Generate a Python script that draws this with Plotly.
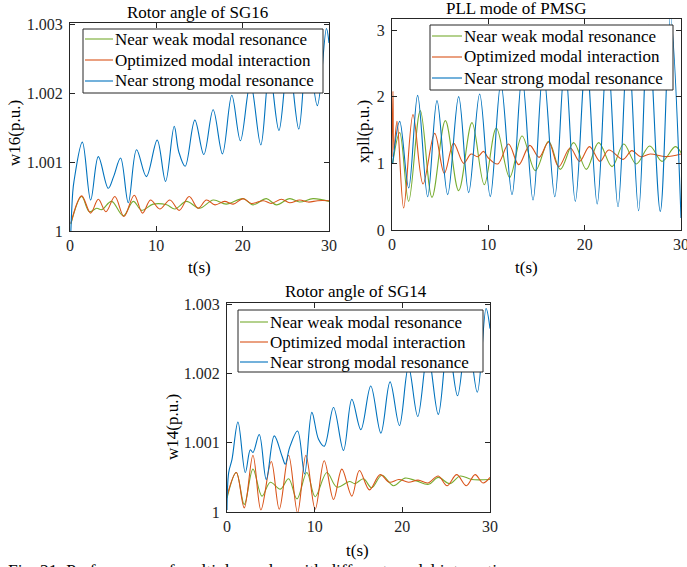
import plotly.graph_objects as go

# time points (s) and values
# --- Rotor angle of SG16 ---
t_sg16_weak = [0.1, 1.35, 2.24, 3.1, 3.66, 4.82, 6.17, 7.33, 8.3, 9.64, 11.2, 12.15, 13.5, 15.0,
               16.6, 18.1, 20.05, 21.2, 22.75, 23.9, 25.45, 26.6, 28.15, 30.0]
w16_weak = [1.0001, 1.0005, 1.00028, 1.00033, 1.00031, 1.00043, 1.00022, 1.00043, 1.0003, 1.00039,
            1.00038, 1.00032, 1.00043, 1.00033, 1.00045, 1.00039, 1.00047, 1.00038, 1.00047, 1.00038,
            1.00047, 1.00042, 1.00047, 1.00043]
t_sg16_opt = [0.1, 1.35, 2.39, 3.28, 4.16, 5.2, 6.25, 7.44, 8.4, 9.33, 10.4, 11.57, 12.65, 13.8, 14.85,
              15.8, 16.8, 17.9, 18.9, 20.05, 21.0, 22.4, 23.3, 24.5, 25.45, 26.6, 27.6, 28.7, 30.0]
w16_opt = [1.00011, 1.00051, 1.00026, 1.00046, 1.00028, 1.0005, 1.00021, 1.00052, 1.00026, 1.00045,
           1.00032, 1.00045, 1.0003, 1.0005, 1.00033, 1.00045, 1.00038, 1.00043, 1.00039, 1.00047,
           1.0004, 1.00044, 1.0004, 1.00046, 1.00041, 1.00045, 1.00042, 1.00044, 1.00044]
t_sg16_strong = [0.1, 0.31, 0.46, 1.43, 2.39, 3.28, 4.43, 5.05, 5.86, 6.75, 7.71, 8.85, 10.1, 11.07,
                 12.07, 12.6, 13.34, 14.46, 15.5, 16.58, 17.66, 18.74, 19.74, 20.9, 22.1, 23.1, 24.2,
                 25.3, 26.5, 27.5, 28.65, 29.7, 30.0]
w16_strong = [1.0, 1.00055, 1.00072, 1.00129, 1.00045, 1.00108, 1.00062, 1.00079, 1.00106, 1.00041,
              1.00118, 1.00079, 1.00132, 1.00072, 1.00152, 1.00115, 1.00094, 1.00161, 1.00111, 1.00176,
              1.00112, 1.00197, 1.00131, 1.00215, 1.00125, 1.00233, 1.00146, 1.0025, 1.00148, 1.00268,
              1.00182, 1.00294, 1.00273]

# --- PLL mode of PMSG ---
t_pll_weak = [0.07, 0.8, 1.73, 2.94, 4.15, 5.54, 6.92, 8.3, 9.58, 10.83, 12.21, 13.5, 14.88, 16.26,
              17.47, 18.86, 20.17, 21.45, 22.84, 24.05, 25.36, 26.75, 28.03, 29.4, 30.0]
xpll_weak = [1.0, 1.46, 0.43, 1.79, 0.49, 1.64, 0.59, 1.61, 0.68, 1.53, 0.79, 1.41, 0.89, 1.33, 0.91,
             1.31, 0.91, 1.31, 0.95, 1.29, 0.99, 1.26, 1.03, 1.25, 1.16]
t_pll_opt = [0.0, 0.1, 0.2, 0.52, 1.21, 2.18, 3.22, 4.43, 5.43, 6.4, 7.44, 8.2, 8.9, 9.5, 10.0, 10.97,
             12.1, 13.15, 14.3, 15.26, 16.26, 17.3, 18.5, 19.48, 20.5, 21.6, 22.5, 23.98, 24.9, 25.8,
             26.8, 28.4, 30.0]
xpll_opt = [1.1, 2.08, 1.2, 1.63, 0.33, 1.73, 0.69, 1.45, 0.85, 1.30, 1.00, 1.14, 1.10, 1.18, 1.08,
            0.99, 1.29, 0.98, 1.27, 1.09, 1.32, 0.95, 1.23, 1.03, 1.25, 1.03, 1.20, 1.06, 1.19, 1.10,
            1.14, 1.10, 1.14]
t_pll_strong = [0.07, 0.8, 1.73, 2.66, 3.7, 4.67, 5.78, 6.92, 7.96, 9.1, 10.2, 11.3, 12.46, 13.5,
                14.64, 15.7, 16.9, 17.95, 19.03, 20.15, 21.3, 22.35, 23.46, 24.5, 25.6, 26.6, 27.85,
                28.9, 30.0]
xpll_strong = [1.0, 1.63, 0.63, 2.02, 0.50, 1.94, 0.53, 2.00, 0.56, 2.04, 0.50, 2.2, 0.53, 2.3, 0.45,
               2.4, 0.50, 2.5, 0.43, 2.6, 0.39, 2.7, 0.35, 2.85, 0.29, 3.07, 0.28, 3.2, 0.18]

# --- Rotor angle of SG14 ---
t_sg14_weak = [0.0, 1.06, 1.97, 2.96, 3.99, 4.94, 6.08, 7.03, 7.98, 9.11, 10.06, 11.39, 12.53, 13.98,
               14.6, 15.57, 16.5, 17.66, 19.0, 20.3, 21.6, 23.0, 24.1, 25.4, 26.6, 27.9, 30.0]
w14_weak = [1.0002, 1.00057, 1.00011, 1.00062, 1.00023, 1.00043, 1.00033, 1.00048, 1.00019, 1.00057,
            1.00022, 1.00057, 1.00036, 1.00044, 1.00041, 1.00048, 1.00035, 1.00053, 1.00038, 1.00049,
            1.00045, 1.0004, 1.0005, 1.00041, 1.00052, 1.00047, 1.00047]
t_sg14_opt = [0.0, 1.06, 1.97, 2.96, 3.87, 5.05, 5.96, 7.03, 8.05, 9.0, 10.06, 11.09, 12.15, 13.1,
              14.24, 15.1, 16.25, 17.47, 18.53, 19.6, 20.7, 21.8, 22.9, 24.1, 25.1, 26.2, 27.3, 28.3,
              29.2, 30.0]
w14_opt = [1.00023, 1.00057, 1.00006, 1.00082, 1.00003, 1.00073, 1.00004, 1.00082, 0.99999, 1.00082,
           1.00004, 1.00074, 1.00018, 1.00062, 1.00023, 1.0006, 1.00032, 1.00054, 1.00043, 1.00047,
           1.00043, 1.00046, 1.00042, 1.00052, 1.00038, 1.00054, 1.00038, 1.00054, 1.00042, 1.0005]
t_sg14_strong = [0.0, 0.19, 0.57, 1.25, 2.09, 2.66, 2.96, 3.68, 4.48, 5.39, 6.27, 6.65, 7.14, 8.05,
                 8.85, 9.68, 10.44, 11.09, 12.15, 13.29, 14.24, 15.27, 16.4, 17.55, 18.6, 19.67, 20.7,
                 21.76, 22.9, 24.1, 25.2, 26.3, 27.4, 28.55, 29.55, 30.0]
w14_strong = [1.00003, 1.00057, 1.00076, 1.0013, 1.00057, 1.0009, 1.00086, 1.00112, 1.00047, 1.0011,
              1.00081, 1.00069, 1.00093, 1.00117, 1.00055, 1.00144, 1.00105, 1.00095, 1.00151, 1.00089,
              1.00163, 1.00119, 1.00182, 1.00114, 1.00188, 1.00125, 1.0021, 1.00138, 1.0023, 1.00141,
              1.00245, 1.00168, 1.0026, 1.00173, 1.00294, 1.00265]

series_names = ["Near weak modal resonance", "Optimized modal interaction", "Near strong modal resonance"]
colors = ["#77AC30", "#D95319", "#0072BD"]

W, H = 687, 567
FONT = "Liberation Serif"
AX = "#262626"


def px_x(p):
    return p / W


def px_y(p):
    return 1 - p / H


panels = [
    # axes, data, x px range, y px range (top, bottom), y range, y ticks
    ("x", "y",
     [(t_sg16_weak, w16_weak), (t_sg16_opt, w16_opt), (t_sg16_strong, w16_strong)],
     (70, 329), (23, 231), [1, 1.00302], [1, 1.001, 1.002, 1.003]),
    ("x2", "y2",
     [(t_pll_weak, xpll_weak), (t_pll_opt, xpll_opt), (t_pll_strong, xpll_strong)],
     (392, 681), (19, 230), [0, 3.165], [0, 1, 2, 3]),
    ("x3", "y3",
     [(t_sg14_weak, w14_weak), (t_sg14_opt, w14_opt), (t_sg14_strong, w14_strong)],
     (227, 490), (303, 512), [1, 1.00302], [1, 1.001, 1.002, 1.003]),
]

# legend boxes in pixels: left, top, right, bottom, rows y, line x0, line x1, text x
legend_boxes = [
    (83, 29, 323, 93, [39, 60, 81], 85, 113, 114),
    (430, 25, 673, 90, [36, 57, 78], 432, 462, 463),
    (238, 310, 483, 372, [322, 342, 362], 240, 268, 269),
]

fig = go.Figure()
layout = dict(
    width=W, height=H,
    margin=dict(l=0, r=0, t=0, b=0),
    paper_bgcolor="white", plot_bgcolor="white",
    font=dict(family=FONT, size=16, color=AX),
    showlegend=False,
)

for i, (xa, ya, data, xr, yr, yrange, yticks) in enumerate(panels):
    for (t, v), name, c in zip(data, series_names, colors):
        fig.add_trace(go.Scatter(x=t, y=v, name=name, mode="lines",
                                 line=dict(color=c, width=1.1, shape="spline", smoothing=1.0),
                                 xaxis=xa, yaxis=ya))
    suffix = "" if i == 0 else str(i + 1)
    common = dict(showline=True, linecolor=AX, linewidth=1, mirror="ticks", ticks="inside",
                  ticklen=5, tickcolor=AX, showgrid=False, zeroline=False, automargin=False,
                  ticklabeloverflow="allow", tickfont=dict(family=FONT, size=16, color=AX))
    layout["xaxis" + suffix] = dict(common, domain=[px_x(xr[0]), px_x(xr[1])], range=[0, 30],
                                    tickvals=[0, 10, 20, 30], anchor=ya)
    layout["yaxis" + suffix] = dict(common, domain=[px_y(yr[1]), px_y(yr[0])], range=yrange,
                                    tickvals=yticks, anchor=xa, ticklabelstandoff=3)

fig.update_layout(**layout)

# legends drawn by hand, MATLAB style
for (l, t, r, b, rows, lx0, lx1, tx) in legend_boxes:
    fig.add_shape(type="rect", xref="paper", yref="paper", layer="above",
                  x0=px_x(l), x1=px_x(r), y0=px_y(b), y1=px_y(t),
                  fillcolor="white", line=dict(color=AX, width=1))
    for ry, name, c in zip(rows, series_names, colors):
        fig.add_shape(type="line", xref="paper", yref="paper", layer="above",
                      x0=px_x(lx0), x1=px_x(lx1), y0=px_y(ry), y1=px_y(ry),
                      line=dict(color=c, width=1.1))
        fig.add_annotation(text=name, x=px_x(tx), y=px_y(ry), xref="paper", yref="paper",
                           xanchor="left", yanchor="middle", showarrow=False, borderpad=0,
                           font=dict(family=FONT, size=17, color="black"))

# titles and axis labels
texts = [
    ("Rotor angle of SG16", 197, 12, 0),
    ("PLL mode of PMSG", 516, 9, 0),
    ("Rotor angle of SG14", 356, 291, 0),
    ("w16(p.u.)", 15, 133, -90),
    ("xpll(p.u.)", 363, 132, -90),
    ("w14(p.u.)", 172, 427, -90),
    ("t(s)", 199, 267, 0),
    ("t(s)", 526, 267, 0),
    ("t(s)", 357, 550, 0),
]
for txt, x, y, ang in texts:
    fig.add_annotation(text=txt, x=px_x(x), y=px_y(y), xref="paper", yref="paper",
                       xanchor="center", yanchor="middle", textangle=ang, showarrow=False,
                       font=dict(family=FONT, size=17, color="black"))

fig.add_annotation(text="Fig. 21. Performance of multiple modes with different modal interactions",
                   x=px_x(6), y=px_y(557.5), xref="paper", yref="paper", xanchor="left", yanchor="top",
                   showarrow=False, font=dict(family=FONT, size=17.5, color="black"))

# drop the default page margin so the figure sits at the window's corner
fig.write_html("out.html", config={"displayModeBar": False},
               post_script="document.body.style.margin='0';")
